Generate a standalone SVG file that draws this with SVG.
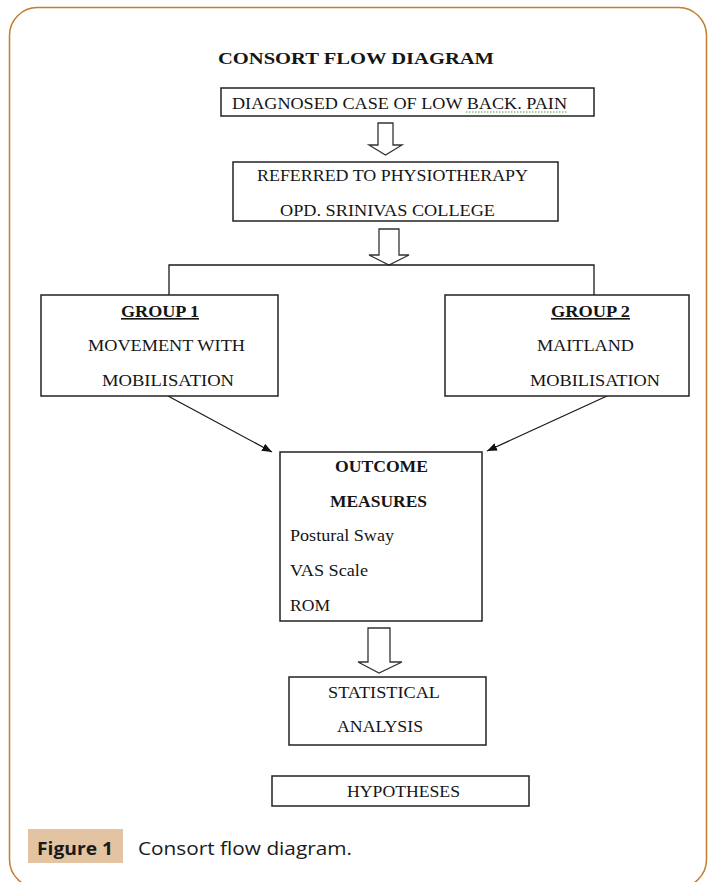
<svg xmlns="http://www.w3.org/2000/svg" width="711" height="882" viewBox="0 0 711 882">
<defs>
<style>
.box{fill:#fff;stroke:#222;stroke-width:1.5}
.t{font-family:"Liberation Serif","Times New Roman",serif;font-size:16px;fill:#151515}
.b{font-weight:bold}
.u{text-decoration:underline}
.conn{fill:none;stroke:#1a1a1a;stroke-width:1.3}
.hollow{fill:#fff;stroke:#333;stroke-width:1.3;stroke-linejoin:miter}
</style>
<marker id="ah" viewBox="0 0 10 8" refX="10" refY="4" markerWidth="10" markerHeight="8" markerUnits="userSpaceOnUse" orient="auto">
<path d="M0,0 L10,4 L0,8 z" fill="#111"/>
</marker>
</defs>
<rect x="9.5" y="7.5" width="697" height="880" rx="28" ry="28" fill="#fff" stroke="#c07f2e" stroke-width="1.5"/>
<text class="t b" x="218" y="64" font-size="18" textLength="276" lengthAdjust="spacingAndGlyphs">CONSORT FLOW DIAGRAM</text>

<g id="connectors">
<polygon class="hollow" points="378,123 393,123 393,145 402,145 385.5,155 369,145 378,145"/>
<polygon class="hollow" points="379,229 399,229 399,255 409,255 389,265 369,255 379,255"/>
<polyline class="conn" points="169,295 169,265 594,265 594,295"/>
<line class="conn" x1="168" y1="396" x2="272" y2="452" marker-end="url(#ah)"/>
<line class="conn" x1="607" y1="396" x2="487" y2="451" marker-end="url(#ah)"/>
<polygon class="hollow" points="368,628 390,628 390,662 402,662 379,673 358,662 368,662"/>
</g>

<g id="n-diagnosed">
<rect class="box" x="221" y="88" width="373" height="28"/>
<text class="t" x="232" y="109" textLength="335" lengthAdjust="spacingAndGlyphs">DIAGNOSED CASE OF LOW BACK. PAIN</text>
<line x1="466" y1="112" x2="567" y2="112" stroke="#4a9a3a" stroke-width="1" stroke-dasharray="1.5,1.5"/>
</g>

<g id="n-referred">
<rect class="box" x="233" y="162" width="325" height="59"/>
<text class="t" x="257" y="181" textLength="271" lengthAdjust="spacingAndGlyphs">REFERRED TO PHYSIOTHERAPY</text>
<text class="t" x="280" y="216" textLength="215" lengthAdjust="spacingAndGlyphs">OPD. SRINIVAS COLLEGE</text>
</g>

<g id="n-group1">
<rect class="box" x="41" y="295" width="237" height="101"/>
<text class="t b u" x="121" y="317" textLength="78" lengthAdjust="spacingAndGlyphs">GROUP 1</text>
<text class="t" x="88" y="351" textLength="157" lengthAdjust="spacingAndGlyphs">MOVEMENT WITH</text>
<text class="t" x="102" y="386" textLength="132" lengthAdjust="spacingAndGlyphs">MOBILISATION</text>
</g>

<g id="n-group2">
<rect class="box" x="445" y="295" width="244" height="101"/>
<text class="t b u" x="551" y="317" textLength="79" lengthAdjust="spacingAndGlyphs">GROUP 2</text>
<text class="t" x="537" y="351" textLength="97" lengthAdjust="spacingAndGlyphs">MAITLAND</text>
<text class="t" x="530" y="386" textLength="130" lengthAdjust="spacingAndGlyphs">MOBILISATION</text>
</g>

<g id="n-outcome">
<rect class="box" x="280" y="452" width="202" height="169"/>
<text class="t b" x="335" y="472" textLength="93" lengthAdjust="spacingAndGlyphs">OUTCOME</text>
<text class="t b" x="330" y="507" textLength="97" lengthAdjust="spacingAndGlyphs">MEASURES</text>
<text class="t" x="290" y="541" textLength="104" lengthAdjust="spacingAndGlyphs">Postural Sway</text>
<text class="t" x="290" y="576" textLength="78" lengthAdjust="spacingAndGlyphs">VAS Scale</text>
<text class="t" x="290" y="611" textLength="40" lengthAdjust="spacingAndGlyphs">ROM</text>
</g>

<g id="n-statistical">
<rect class="box" x="289" y="677" width="197" height="68"/>
<text class="t" x="328" y="698" textLength="112" lengthAdjust="spacingAndGlyphs">STATISTICAL</text>
<text class="t" x="337" y="732" textLength="86" lengthAdjust="spacingAndGlyphs">ANALYSIS</text>
</g>

<g id="n-hypotheses">
<rect class="box" x="272" y="776" width="257" height="30"/>
<text class="t" x="347" y="797" textLength="113" lengthAdjust="spacingAndGlyphs">HYPOTHESES</text>
</g>

<g id="caption">
<rect x="28" y="829" width="95" height="34" fill="#e3c4a2"/>
<text x="37" y="855" font-family="'Open Sans','Noto Sans',sans-serif" font-size="18" font-weight="bold" fill="#1a1a1a" textLength="76" lengthAdjust="spacingAndGlyphs">Figure 1</text>
<text x="138" y="855" font-family="'Open Sans','Noto Sans',sans-serif" font-size="18" fill="#1a1a1a" textLength="214" lengthAdjust="spacingAndGlyphs">Consort flow diagram.</text>
</g>
</svg>
